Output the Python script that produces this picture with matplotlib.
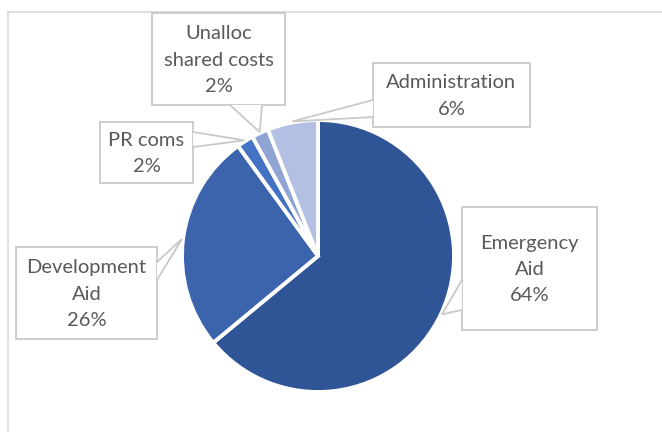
import matplotlib
matplotlib.use("Agg")
import matplotlib.pyplot as plt
from matplotlib.patches import Rectangle, Polygon
import numpy as np

# slice data, clockwise from 12 o'clock
categories = ["Emergency\nAid", "Development\nAid", "PR coms", "Unalloc\nshared costs", "Administration"]
shares = [64, 26, 2, 2, 6]
colors = ["#2F5597", "#3B64AD", "#4472C4", "#8FA4D3", "#B4C0E3"]

# callout boxes in pixel coords (x0, y0, x1, y1), y down
boxes = [
    (462, 207, 597, 330),
    (16, 247, 157, 339),
    (100, 122, 193, 183),
    (152, 13, 285, 105),
    (373, 63, 530, 127),
]
# where the pointer leaves the box: side and the two base coordinates
pointers = [
    ("left", 280, 310),
    ("right", 262, 280),
    ("right", 132, 147),
    ("bottom", 230, 262),
    ("left", 100, 117),
]

W, H = 662, 432
TEXT = "#595959"
EDGE = "#C9C9C9"

fig = plt.figure(figsize=(W / 100, H / 100), dpi=100)
ax = fig.add_axes([0, 0, 1, 1])

# y axis runs downwards, so counterclock=True draws clockwise on screen
wedges, _ = ax.pie(shares, colors=colors, startangle=-90, counterclock=True,
                   center=(318, 256), radius=136,
                   wedgeprops=dict(edgecolor="white", linewidth=2.8))

ax.set_xlim(0, W)
ax.set_ylim(H, 0)
ax.set_aspect("auto")
ax.axis("off")

# chart area border (top and left visible)
ax.plot([8, W], [12, 12], color="#D9D9D9", lw=1.2, zorder=1)
ax.plot([8, 8], [12, H], color="#D9D9D9", lw=1.2, zorder=1)

for w, label, share, box, ptr in zip(wedges, categories, shares, boxes, pointers):
    mid = np.deg2rad((w.theta1 + w.theta2) / 2)
    cx, cy = w.center
    tip = (cx + (w.r + 1) * np.cos(mid), cy + (w.r + 1) * np.sin(mid))

    x0, y0, x1, y1 = box
    ax.add_patch(Rectangle((x0, y0), x1 - x0, y1 - y0, facecolor="white",
                           edgecolor=EDGE, lw=1.3, zorder=3))
    side, a, b = ptr
    if side == "left":
        base = [(x0, a), (x0, b)]
    elif side == "right":
        base = [(x1, a), (x1, b)]
    else:
        base = [(a, y1), (b, y1)]
    ax.add_patch(Polygon([base[0], tip, base[1]], closed=True, facecolor="white",
                         edgecolor="none", zorder=4))
    ax.plot([base[0][0], tip[0], base[1][0]], [base[0][1], tip[1], base[1][1]],
            color=EDGE, lw=1.3, zorder=5, solid_joinstyle="miter")

    ax.text((x0 + x1) / 2, (y0 + y1) / 2 + 1, f"{label}\n{share}%", ha="center", va="center",
            color=TEXT, fontsize=14.5, family="Lato", linespacing=1.65, zorder=6)

fig.savefig("out.png", dpi=100)
